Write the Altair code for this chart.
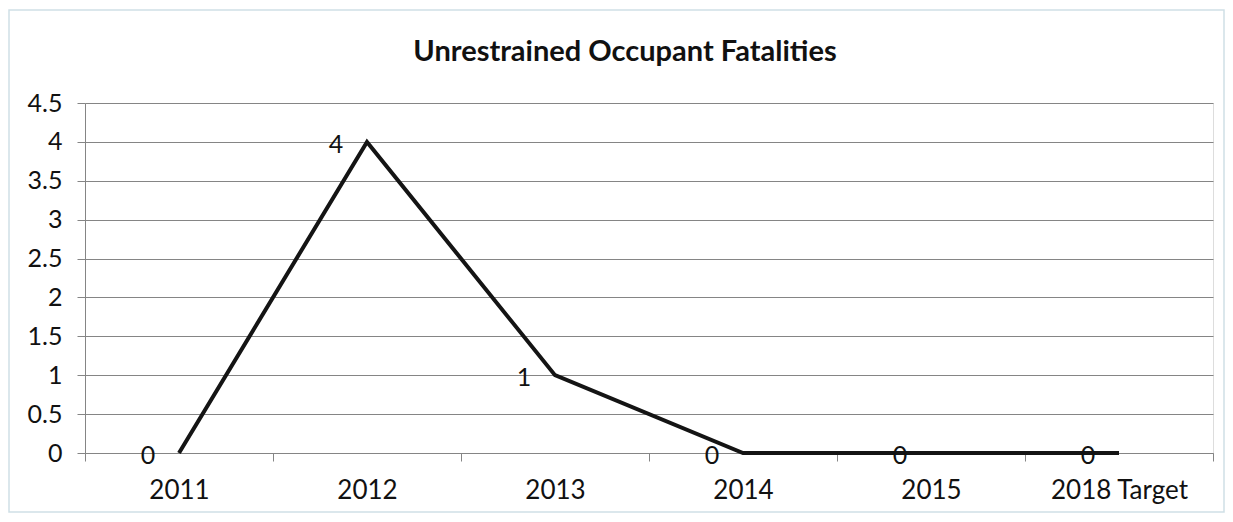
import altair as alt
import pandas as pd

categories = ["2011", "2012", "2013", "2014", "2015", "2018 Target"]
fatalities = [0, 4, 1, 0, 0, 0]
y_ticks = [0, 0.5, 1, 1.5, 2, 2.5, 3, 3.5, 4, 4.5]

df = pd.DataFrame({"Year": categories, "Fatalities": fatalities})

FONT = "Lato"
GRID = "#858585"

x_enc = alt.X(
    "Year:N",
    sort=categories,
    scale=alt.Scale(type="band", paddingInner=0, paddingOuter=0),
    axis=alt.Axis(
        title=None,
        labelAngle=0,
        tickBand="extent",
        tickSize=8,
        tickColor=GRID,
        domainColor=GRID,
        labelFontSize=26,
        labelColor="#111111",
        labelFont=FONT,
        labelPadding=16,
        grid=False,
    ),
)
y_enc = alt.Y(
    "Fatalities:Q",
    scale=alt.Scale(domain=[0, 4.5], nice=False),
    axis=alt.Axis(
        title=None,
        values=y_ticks,
        format=".1~f",
        grid=True,
        gridColor=GRID,
        gridWidth=1,
        domainColor=GRID,
        tickColor=GRID,
        tickSize=8,
        labelFontSize=25,
        labelColor="#111111",
        labelFont=FONT,
        labelPadding=15,
        labelOverlap=False,
    ),
)

base = alt.Chart(df)

line = base.mark_line(color="#141414", strokeWidth=4).encode(x=x_enc, y=y_enc)

labels = base.mark_text(
    align="center", baseline="middle", dx=-31, dy=3, fontSize=25, font=FONT, color="#111111"
).encode(x=x_enc, y=y_enc, text=alt.Text("Fatalities:Q", format="d"))

frame = alt.Chart(pd.DataFrame({"f": [0]})).mark_rect(
    filled=False, stroke="#cfe0e6", strokeWidth=1.5
).encode(
    x=alt.value(-76), x2=alt.value(1139), y=alt.value(-93), y2=alt.value(409)
)

chart = (
    alt.layer(frame, line, labels)
    .properties(
        width=1128,
        height=350,
        autosize=alt.AutoSizeParams(type="none"),
        padding={"left": 77, "top": 95, "right": 12, "bottom": 61},
        title=alt.TitleParams(
            "Unrestrained Occupant Fatalities",
            font=FONT,
            fontSize=29,
            fontWeight="bold",
            color="#111111",
            anchor="middle",
            baseline="alphabetic",
            offset=-81,
            dx=-24,
        ),
    )
    .configure_view(stroke=None)
    .configure(background="white")
)

chart.save("out.html", embed_options={"renderer": "svg", "actions": False})
